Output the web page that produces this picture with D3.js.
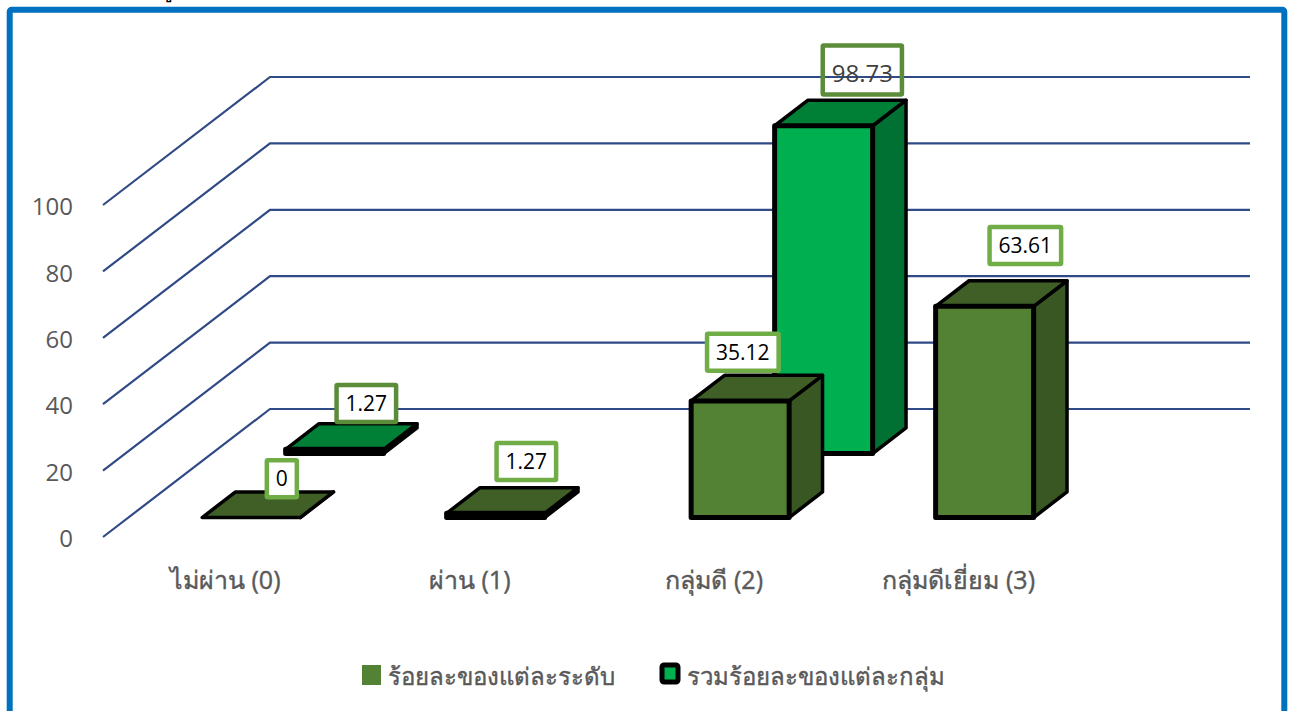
<!DOCTYPE html>
<html>
<head>
<meta charset="utf-8">
<script src="https://cdn.jsdelivr.net/npm/d3@7"></script>
<style>
  html, body { margin: 0; padding: 0; background: #fff; overflow: hidden; }
  text { font-family: "Open Sans", "Noto Sans", sans-serif; }
</style>
</head>
<body>
<svg id="chart" width="1290" height="711"></svg>
<script>
const categories = ['ไม่ผ่าน (0)', 'ผ่าน (1)', 'กลุ่มดี (2)', 'กลุ่มดีเยี่ยม (3)'];
const seriesNames = ['ร้อยละของแต่ละระดับ', 'รวมร้อยละของแต่ละกลุ่ม'];
const levelValues = [0, 1.27, 35.12, 63.61];
const groupValues = [1.27, null, 98.73, null];
const yTicks = [0, 20, 40, 60, 80, 100];

// label boxes were dragged by hand in the original, so each has its own offset
const levelOffsets = [[14, -26], [14, -39], [-14, -36], [24, -48]];
const groupOffsets = [[15, -33], null, [22, -43], null];

const colors = [
  { front: '#548235', top: '#3f5f27', side: '#385723', label: '#70ad47' },
  { front: '#00b050', top: '#008037', side: '#007033', label: '#5b8c3a' }
];

const svg = d3.select('#chart');

// frame
svg.append('rect')
    .attr('x', 9.7).attr('y', 9.7)
    .attr('width', 1274.6).attr('height', 720)
    .attr('rx', 2)
    .attr('fill', '#fff')
    .attr('stroke', '#0070c0')
    .attr('stroke-width', 6);

// tail of the cut off title above the frame
svg.append('text')
    .attr('x', 160).attr('y', -4)
    .attr('font-size', 24)
    .attr('fill', '#000')
    .text('รู');

let x = d3.scaleBand()
    .domain(categories)
    .range([103, 1081]);

let y = d3.scaleLinear()
    .domain([0, 100])
    .range([537, 205]);

// depth runs 0 (front of floor) to 1 (back wall)
let depthX = d3.scaleLinear().domain([0, 1]).range([0, 167]);
let depthY = d3.scaleLinear().domain([0, 1]).range([0, -128]);

const barWidth = 98;
const barDepth = 0.2;
const seriesDepth = [0.152, 0.652];

function pt(px, value, d) {
  return [px + depthX(d), y(value) + depthY(d)];
}

function barLeft(c) {
  return x(c) + x.bandwidth() / 2 + 0.5 - barWidth / 2;
}

// gridlines
svg.append('g').selectAll('path')
    .data(yTicks)
  .enter().append('path')
    .attr('d', t => d3.line()([pt(x.range()[0], t, 0), pt(x.range()[0], t, 1), pt(x.range()[1] + 2, t, 1)]))
    .attr('fill', 'none')
    .attr('stroke', '#2f4a85')
    .attr('stroke-width', 2.2);

// y axis
let yAxis = d3.axisLeft(y).tickValues(yTicks).tickSize(0).tickPadding(0);
let yG = svg.append('g')
    .attr('transform', 'translate(73,2)')
    .call(yAxis);
yG.select('.domain').remove();
yG.selectAll('text')
    .attr('font-size', 24)
    .attr('fill', '#595959')
    .style('font-family', '"Open Sans", sans-serif');

// x labels
svg.append('g').selectAll('text')
    .data(categories)
  .enter().append('text')
    .attr('x', c => x(c) + x.bandwidth() / 2)
    .attr('y', 589)
    .attr('text-anchor', 'middle')
    .attr('font-size', 25)
    .attr('fill', '#595959')
    .attr('stroke', '#595959')
    .attr('stroke-width', 0.4)
    .text(c => c);

// bars, back series first
function drawBars(values, s) {
  const col = colors[s];
  const d0 = seriesDepth[s], d1 = d0 + barDepth;
  const g = svg.append('g')
      .attr('stroke', '#000')
      .attr('stroke-linejoin', 'round');

  categories.forEach((c, i) => {
    if (values[i] === null) return;
    const v = values[i];
    const l = barLeft(c);
    const r = l + barWidth;

    g.append('path')
        .attr('d', d3.line()([pt(r, 0, d0), pt(r, 0, d1), pt(r, v, d1), pt(r, v, d0)]) + 'Z')
        .attr('fill', col.side)
        .attr('stroke-width', 3.5);
    g.append('path')
        .attr('d', d3.line()([pt(l, v, d0), pt(l, v, d1), pt(r, v, d1), pt(r, v, d0)]) + 'Z')
        .attr('fill', col.top)
        .attr('stroke-width', 3.5);
    const a = pt(l, v, d0), b = pt(r, 0, d0);
    g.append('rect')
        .attr('x', a[0]).attr('y', a[1])
        .attr('width', b[0] - a[0]).attr('height', b[1] - a[1])
        .attr('fill', col.front)
        .attr('stroke-width', 5);
  });
}

function drawLabels(values, s, offsets) {
  const dm = seriesDepth[s] + barDepth / 2;
  categories.forEach((c, i) => {
    if (values[i] === null) return;
    const v = values[i];
    const big = v > 90; // this one has no fill and a bigger grey font in the original
    const p = pt(barLeft(c) + barWidth / 2, v, dm);
    const cx = p[0] + offsets[i][0], cy = p[1] + offsets[i][1];
    const g = svg.append('g');
    const t = g.append('text')
        .attr('x', cx).attr('y', big ? cy + 12 : cy + 7.5)
        .attr('text-anchor', 'middle')
        .attr('font-size', big ? 24 : 21)
        .attr('fill', big ? '#404040' : '#000')
        .text(String(v));
    const w = t.node().getComputedTextLength() + 18;
    const h = big ? 49 : 37;
    g.insert('rect', 'text')
        .attr('x', cx - w / 2).attr('y', cy - h / 2)
        .attr('width', w).attr('height', h)
        .attr('rx', 1)
        .attr('fill', big ? 'none' : '#fff')
        .attr('stroke', colors[s].label)
        .attr('stroke-width', 4.5);
  });
}

drawBars(groupValues, 1);
drawBars(levelValues, 0);
drawLabels(groupValues, 1, groupOffsets);
drawLabels(levelValues, 0, levelOffsets);

// legend
svg.append('rect')
    .attr('x', 362).attr('y', 665).attr('width', 19).attr('height', 20)
    .attr('fill', colors[0].front);
svg.append('text')
    .attr('x', 388).attr('y', 685)
    .attr('font-size', 24).attr('fill', '#595959')
    .attr('stroke', '#595959').attr('stroke-width', 0.4)
    .text(seriesNames[0]);
svg.append('rect')
    .attr('x', 662).attr('y', 665).attr('width', 16).attr('height', 17)
    .attr('rx', 2)
    .attr('fill', colors[1].front)
    .attr('stroke', '#000').attr('stroke-width', 5);
svg.append('text')
    .attr('x', 687).attr('y', 685)
    .attr('font-size', 24).attr('fill', '#595959')
    .attr('stroke', '#595959').attr('stroke-width', 0.4)
    .text(seriesNames[1]);
</script>
</body>
</html>
